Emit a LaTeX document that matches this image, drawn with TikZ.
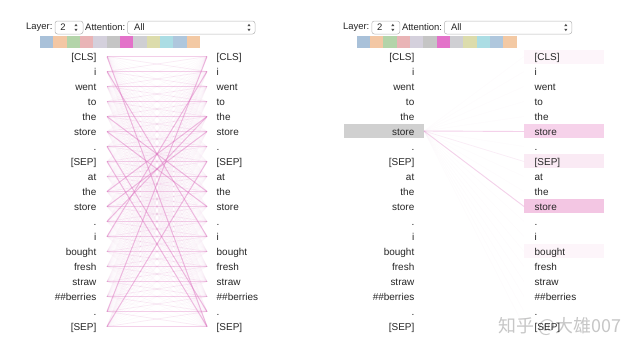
\documentclass[tikz,border=0pt]{standalone}
\usepackage{fontspec}
\setmainfont{Liberation Sans}
\newfontfamily\cjk{Noto Sans CJK SC}
\definecolor{attpink}{HTML}{DD6FBF}
\definecolor{sw1}{HTML}{A9C1D9}
\definecolor{sw2}{HTML}{F3C7A4}
\definecolor{sw3}{HTML}{B3D4A9}
\definecolor{sw4}{HTML}{E9B4B6}
\definecolor{sw5}{HTML}{D4D0DC}
\definecolor{sw6}{HTML}{C5C5C5}
\definecolor{sw7}{HTML}{E372C9}
\definecolor{sw8}{HTML}{CFCFD3}
\definecolor{sw9}{HTML}{DCDCAC}
\definecolor{sw10}{HTML}{ABDDE4}
\definecolor{sw11}{HTML}{AFC7DD}
\definecolor{sw12}{HTML}{F3C9A4}
\definecolor{selgray}{HTML}{D0D0D0}
\definecolor{pinkA}{HTML}{F6D2EA}
\definecolor{pinkB}{HTML}{F3C6E3}
\definecolor{pinkC}{HTML}{FAEAF4}
\definecolor{pinkD}{HTML}{FDF5FA}
\begin{document}
\begin{tikzpicture}[x=1bp,y=-1bp,
  tok/.style={font=\fontsize{10}{12}\selectfont, inner sep=0pt, text=black!85},
  hdr/.style={font=\fontsize{9.5}{11}\selectfont, inner sep=0pt, text=black!85},
  selbox/.style={draw=black!28, fill=white, rounded corners=2.5bp, line width=0.5bp},
  faint/.style={draw=attpink, line width=0.5bp, opacity=0.045},
  vfaint/.style={draw=attpink, line width=0.5bp, opacity=0.025},
  weak/.style={draw=attpink, line width=0.7bp, opacity=0.11},
  mid/.style={draw=attpink, line width=0.9bp, opacity=0.3},
  strong/.style={draw=attpink, line width=1bp, opacity=0.45},
]
\useasboundingbox[fill=white] (0,0) rectangle (640,360);
\def\toks{{[CLS]},i,went,to,the,store,.,{[SEP]},at,the,store,.,i,bought,fresh,straw,\#\#berries,.,{[SEP]}}

% ---------- watermark (behind) ----------
\node[font=\cjk\fontsize{18}{20}\selectfont, text=black!22, inner sep=0pt] (wm) at (560,327) {知乎 @大雄007};

% ---------- headers ----------
\foreach \p/\o in {A/0,B/318}{
  \begin{scope}[xshift=\o]
    \node[hdr, anchor=west] (layer\p) at (26,27.5) {Layer:};
    \draw[selbox] (55,21) rectangle (83,34);
    \node[hdr, anchor=center] (lnum\p) at (63,27.5) {2};
    \fill[black!70] (76,23.8) -- (74.4,26.2) -- (77.6,26.2) -- cycle;
    \fill[black!70] (76,31.2) -- (74.4,28.8) -- (77.6,28.8) -- cycle;
    \node[hdr, anchor=west] (attn\p) at (85,27.5) {Attention:};
    \draw[selbox] (127.5,21) rectangle (255,34);
    \node[hdr, anchor=west] (all\p) at (134,27.5) {All};
    \fill[black!70] (249,23.8) -- (247.4,26.2) -- (250.6,26.2) -- cycle;
    \fill[black!70] (249,31.2) -- (247.4,28.8) -- (250.6,28.8) -- cycle;
    \foreach \c [count=\n from 0] in {sw1,sw2,sw3,sw4,sw5,sw6,sw7,sw8,sw9,sw10,sw11,sw12}{
      \fill[\c] ({40+13.33*\n},35.5) rectangle ({40+13.33*(\n+1)},47.5);
    }
  \end{scope}
}

% ---------- right panel highlight boxes ----------
\fill[selgray] (344,124) rectangle (424,138);
\fill[pinkD] (524,49.5) rectangle (604,63.5);
\fill[pinkA] (524,124) rectangle (604,138);
\fill[pinkC] (524,154) rectangle (604,168);
\fill[pinkB] (524,199) rectangle (604,213);
\fill[pinkD] (524,244) rectangle (604,258);

% ---------- tokens and anchors ----------
\foreach \t [count=\k from 0] in \toks {
  \pgfmathsetmacro\yy{56.5+15*\k}
  \node[tok, anchor=base east] (LT\k) at (96.5,\yy+3.5) {\t};
  \node[tok, anchor=base west] (RT\k) at (216.5,\yy+3.5) {\t};
  \node[tok, anchor=base east] (LU\k) at (414.5,\yy+3.5) {\t};
  \node[tok, anchor=base west] (RU\k) at (534.5,\yy+3.5) {\t};
  \coordinate (La\k) at (107,\yy);
  \coordinate (Ra\k) at (207,\yy);
  \coordinate (Rb\k) at (524,\yy);
}
\coordinate (Lb5) at (424,131);

% ---------- left panel attention lines ----------
\foreach \i in {0,...,18}{
  \foreach \j in {0,...,18}{
    \draw[faint] (La\i) -- (Ra\j);
  }
}
\foreach \i in {0,...,17}{
  \pgfmathtruncatemacro\nx{\i+1}
  \draw[weak] (La\i) -- (Ra\nx);
  \draw[weak] (La\nx) -- (Ra\i);
}
\foreach \i in {0,...,18}{
  \draw[mid] (La\i) -- (Ra\i);
}
\foreach \a/\b in {1/12,12/1,4/9,9/4,5/10,10/5,7/18,18/7,0/18,17/0,6/17,11/4}{
  \draw[strong] (La\a) -- (Ra\b);
}

% ---------- right panel attention lines ----------
\foreach \j in {0,...,18}{
  \draw[vfaint] (Lb5) -- (Rb\j);
}
\draw[mid] (Lb5) -- (Rb5);
\draw[weak] (Lb5) -- (Rb7);
\draw[mid] (Lb5) -- (Rb10);
\end{tikzpicture}
\end{document}
